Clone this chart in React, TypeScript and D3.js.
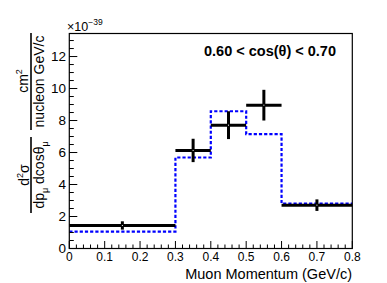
import React from "react";
import * as d3 from "d3";

const binEdges = [0, 0.3, 0.4, 0.5, 0.6, 0.8];
const dataValues = [1.44, 6.13, 7.71, 8.96, 2.71];
const dataErrors = [0.26, 0.73, 0.87, 0.96, 0.36];
const mcValues = [1.06, 5.69, 8.58, 7.15, 2.81];
const xTicks = [0, 0.1, 0.2, 0.3, 0.4, 0.5, 0.6, 0.7, 0.8];
const yTicks = [0, 2, 4, 6, 8, 10, 12];
const titleText = "0.60 < cos(θ) < 0.70";
const xTitle = "Muon Momentum (GeV/c)";

const W = 387;
const H = 283;
const left = 69.3;
const right = 352.3;
const top = 33.5;
const bottom = 248.5;

export default function App() {
  const x = d3.scaleLinear().domain([0, 0.8]).range([left, right]);
  const y = d3.scaleLinear().domain([0, 13.44]).range([bottom, top]);
  const font = "'Liberation Sans', Arial, Helvetica, sans-serif";

  const xMinor = d3.range(0, 0.8001, 0.02);
  const yMinor = d3.range(0, 13.44, 0.5);

  const mcLine = d3
    .line<[number, number]>()
    .x((d) => x(d[0]))
    .y((d) => y(d[1]))
    .curve(d3.curveStepAfter);
  const mcPts: [number, number][] = mcValues.map((v, i) => [binEdges[i], v]);
  mcPts.push([binEdges[binEdges.length - 1], mcValues[mcValues.length - 1]]);

  return (
    <svg
      width={W}
      height={H}
      style={{ position: "absolute", left: 0, top: 0, background: "#fff" }}
      fontFamily={font}
    >
      <rect x={0} y={0} width={W} height={H} fill="#fff" />
      {/* MC histogram */}
      <path
        d={mcLine(mcPts) || ""}
        fill="none"
        stroke="#0000ff"
        strokeWidth={2.2}
        strokeDasharray="3.2,2"
      />
      {/* data */}
      {dataValues.map((v, i) => {
        const x0 = binEdges[i];
        const x1 = binEdges[i + 1];
        const xc = (x0 + x1) / 2;
        return (
          <g key={i} stroke="#000" strokeWidth={3}>
            <line x1={x(x0)} x2={x(x1)} y1={y(v)} y2={y(v)} />
            <line x1={x(xc)} x2={x(xc)} y1={y(v - dataErrors[i])} y2={y(v + dataErrors[i])} />
            <rect x={x(xc) - 0.5} y={y(v) - 0.5} width={1} height={1} fill="#fff" stroke="none" />
          </g>
        );
      })}
      {/* frame */}
      <rect
        x={left}
        y={top}
        width={right - left}
        height={bottom - top}
        fill="none"
        stroke="#000"
        strokeWidth={1.2}
      />
      {/* x ticks */}
      {xMinor.map((t, i) => {
        const major = Math.abs(t * 10 - Math.round(t * 10)) < 1e-6;
        return (
          <line
            key={"xm" + i}
            x1={x(t)}
            x2={x(t)}
            y1={bottom}
            y2={bottom - (major ? 7.5 : 4)}
            stroke="#000"
            strokeWidth={1}
          />
        );
      })}
      {xTicks.map((t) => (
        <text
          key={"xl" + t}
          x={x(t)}
          y={260.7}
          fontSize={12}
          textAnchor="middle"
          fill="#000"
        >
          {t === 0 ? "0" : t.toFixed(1)}
        </text>
      ))}
      {/* y ticks */}
      {yMinor.map((t, i) => {
        const major = Math.abs(t / 2 - Math.round(t / 2)) < 1e-6;
        return (
          <line
            key={"ym" + i}
            x1={left}
            x2={left + (major ? 8 : 4.5)}
            y1={y(t)}
            y2={y(t)}
            stroke="#000"
            strokeWidth={1}
          />
        );
      })}
      {yTicks.map((t) => (
        <text
          key={"yl" + t}
          x={66}
          y={y(t) + 4.8}
          fontSize={13.5}
          textAnchor="end"
          fill="#000"
        >
          {t}
        </text>
      ))}
      {/* exponent */}
      <text x={67} y={30.8} fontSize={12.5} fill="#000">
        ×10
        <tspan fontSize={8.5} dy={-6}>
          −39
        </tspan>
      </text>
      {/* x title */}
      <text x={352} y={279} fontSize={14.5} textAnchor="end" fill="#000">
        {xTitle}
      </text>
      {/* title */}
      <text x={336} y={55.7} fontSize={14.5} fontWeight="bold" textAnchor="end" fill="#000">
        {titleText}
      </text>
      {/* y title */}
      <g>
        <line x1={31} x2={31} y1={33} y2={130} stroke="#000" strokeWidth={1.6} />
        <text transform="translate(27.5,81) rotate(-90)" fontSize={14} textAnchor="middle" fill="#000">
          cm
          <tspan fontSize={9} dy={-6}>
            2
          </tspan>
        </text>
        <text transform="translate(43.5,81.5) rotate(-90)" fontSize={14} textAnchor="middle" fill="#000">
          nucleon GeV/c
        </text>
        <line x1={31} x2={31} y1={137} y2={213} stroke="#000" strokeWidth={1.6} />
        <text transform="translate(28.5,175) rotate(-90)" fontSize={14} textAnchor="middle" fill="#000">
          d
          <tspan fontSize={9} dy={-6}>
            2
          </tspan>
          <tspan dy={6}>σ</tspan>
        </text>
        <text transform="translate(44,175) rotate(-90)" fontSize={14} textAnchor="middle" fill="#000">
          dp
          <tspan fontSize={9} dy={4}>
            μ
          </tspan>
          <tspan dy={-4}> dcosθ</tspan>
          <tspan fontSize={9} dy={4}>
            μ
          </tspan>
        </text>
      </g>
    </svg>
  );
}
